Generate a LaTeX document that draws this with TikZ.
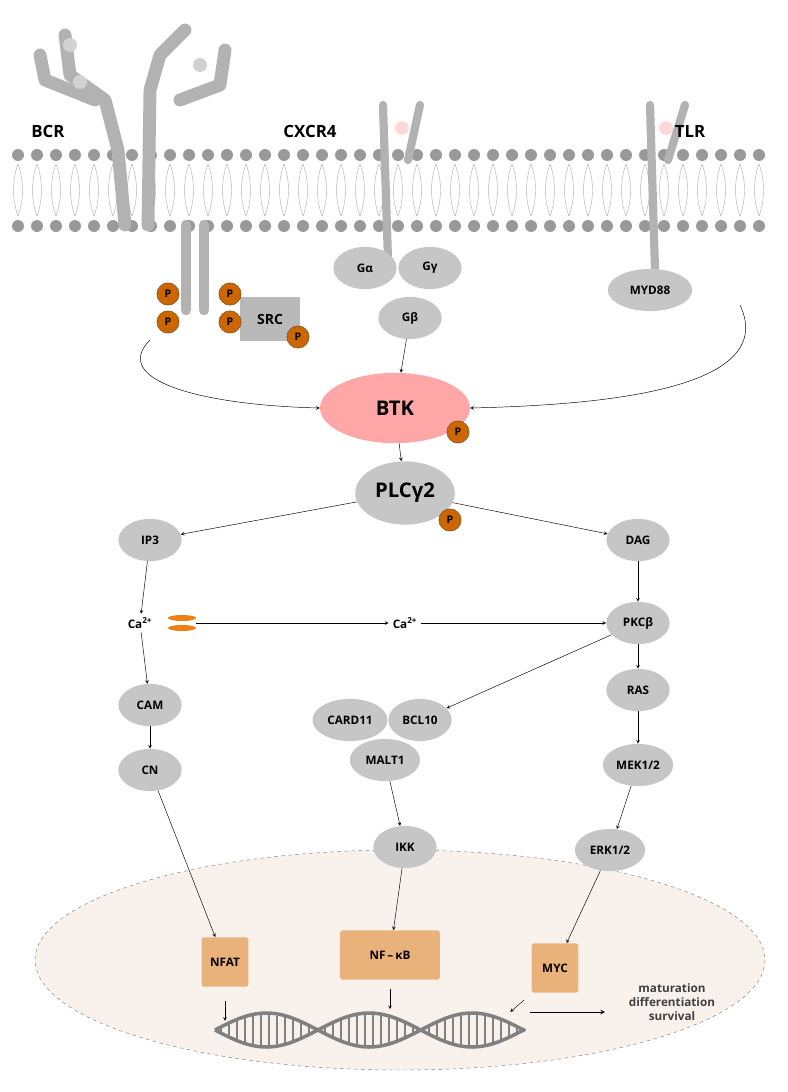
\documentclass[tikz,border=0pt]{standalone}
\usepackage{fontspec}
\setmainfont{Open Sans}
\usetikzlibrary{shapes.geometric, arrows, positioning, calc}
\begin{document}
\begin{tikzpicture}[x=0.03cm,y=-0.03cm]

\tikzstyle{prot}  = [ellipse,fill=gray!45,inner sep=1pt,minimum width=54,minimum height=36,font=\bfseries]
\tikzstyle{phos}  = [circle,fill=orange!80!black,draw=brown!60!black,inner sep=0pt,minimum size=19,font=\bfseries\small]
\tikzstyle{tf}  = [rectangle,rounded corners=2pt,fill=orange!45!brown!60,minimum width=40,minimum height=42,font=\bfseries]
\tikzstyle{sig}  = [->,>=stealth,thin]
\tikzstyle{lbl}  = [font=\bfseries\Large]

\useasboundingbox (0,0) rectangle (788,1092);

% nucleus
\draw[gray,dashed,fill=brown!10] (400,960) ellipse (365 and 110);

% membrane
\foreach \x in {18,37,...,775} {
  \draw[gray!60] (\x,164) .. controls (\x-6,180) and (\x-6,200) .. (\x,216);
  \draw[gray!60] (\x,164) .. controls (\x+6,180) and (\x+6,200) .. (\x,216);
  \fill[gray!80] (\x,155) circle (6);
  \fill[gray!80] (\x,226) circle (6);
}

% BCR
\draw[gray!60,line width=11,line cap=round,line join=round] (65,35) -- (70,75) -- (105,100) -- (118,150) -- (125,225);
\draw[gray!60,line width=11,line cap=round,line join=round] (40,55) -- (45,80) -- (95,100);
\draw[gray!60,line width=11,line cap=round,line join=round] (185,30) -- (160,55) -- (150,90) -- (148,225);
\draw[gray!60,line width=11,line cap=round,line join=round] (225,50) -- (220,85) -- (180,100);
\draw[gray!60,line width=9,line cap=round] (186,225) -- (186,310);
\draw[gray!60,line width=9,line cap=round] (204,225) -- (204,310);
\fill[gray!35] (70,45) circle (7) (80,82) circle (7) (200,65) circle (7);
% CXCR4, TLR
\draw[gray!60,line width=7,line cap=round] (383,105) -- (388,260);
\draw[gray!60,line width=7,line cap=round] (420,105) -- (408,160);
\fill[red!15] (402,128) circle (7);
\draw[gray!60,line width=7,line cap=round] (650,105) -- (655,270);
\draw[gray!60,line width=7,line cap=round] (685,105) -- (668,160);
\fill[red!15] (666,128) circle (7);

\node[lbl] (bcr) at (48,131) {BCR};
\node[lbl] (cxcr) at (310,131) {CXCR4};
\node[lbl] (tlr) at (690,131) {TLR};

\node (src) [rectangle,fill=gray!55,minimum width=52,minimum height=38,font=\bfseries\large] at (270,319) {SRC};
\node (p1) [phos] at (168,294) {P};
\node (p2) [phos] at (168,322) {P};
\node (p3) [phos] at (230,294) {P};
\node (p4) [phos] at (230,322) {P};
\node (p5) [phos] at (298,337) {P};

\node (ga) [prot] at (365,268) {Gα};
\node (gb) [prot] at (410,318) {Gβ};
\node (gg) [prot] at (430,268) {Gγ};
\node (myd) [prot,minimum width=72] at (650,290) {MYD88};

\node (btk) [ellipse,fill=red!35,minimum width=128,minimum height=60,font=\bfseries\LARGE] at (395,408) {BTK};
\node (pb) [phos] at (458,432) {P};
\node (plc) [prot,minimum width=85,minimum height=54,font=\bfseries\LARGE] at (405,493) {PLCγ2};
\node (pp) [phos] at (450,520) {P};

\node (ip3) [prot] at (150,540) {IP3};
\node (dag) [prot] at (638,540) {DAG};
\node (ca1) [font=\bfseries] at (140,623) {Ca\textsuperscript{2+}};
\fill[orange!70!brown] (182,618) ellipse (14 and 3) (182,628) ellipse (14 and 3);
\coordinate (ch) at (196,623);
\node (ca2) [font=\bfseries] at (405,623) {Ca\textsuperscript{2+}};
\node (pkc) [prot] at (638,623) {PKCβ};
\node (cam) [prot] at (150,705) {CAM};
\node (cn) [prot] at (150,770) {CN};
\node (card) [prot,minimum width=64] at (350,720) {CARD11};
\node (bcl) [prot] at (420,720) {BCL10};
\node (malt) [prot,minimum width=60] at (385,760) {MALT1};
\node (ikk) [prot] at (405,847) {IKK};
\node (ras) [prot] at (638,690) {RAS};
\node (mek) [prot,minimum width=60] at (638,765) {MEK1/2};
\node (erk) [prot,minimum width=60] at (610,850) {ERK1/2};

\node (nfat) [tf] at (225,962) {NFAT};
\node (nfk) [tf,minimum width=85] at (390,955) {NF\,--\,κB};
\node (myc) [tf] at (555,968) {MYC};

% DNA
\draw[gray,line width=3] plot[domain=215:525,samples=90] (\x,{1030+17*sin((\x-215)*1.75)});
\draw[gray,line width=3] plot[domain=215:525,samples=90] (\x,{1030-17*sin((\x-215)*1.75)});
\foreach \x in {221,229,...,520}
  \draw[gray,line width=1.3] (\x,{1030+15*sin((\x-215)*1.75)}) -- (\x,{1030-15*sin((\x-215)*1.75)});
\coordinate (dna) at (530,1012);
\node (out) [font=\bfseries,text=darkgray,align=center] at (672,1002) {maturation\\differentiation\\survival};

% arrows
\draw[sig] (150,340) .. controls (110,380) and (200,405) .. (btk.west);
\draw[sig] (740,305) .. controls (780,390) and (600,405) .. (btk.east);
\draw[sig] (gb) -- (btk);
\draw[sig] (btk) -- (plc);
\draw[sig] (plc) -- (ip3);
\draw[sig] (plc) -- (dag);
\draw[sig] (ip3) -- (ca1);
\draw[sig] (ch) -- (ca2);
\draw[sig] (ca2) -- (pkc);
\draw[sig] (dag) -- (pkc);
\draw[sig] (ca1) -- (cam);
\draw[sig] (cam) -- (cn);
\draw[sig] (cn) -- (nfat);
\draw[sig] (pkc) -- (bcl);
\draw[sig] (pkc) -- (ras);
\draw[sig] (ras) -- (mek);
\draw[sig] (mek) -- (erk);
\draw[sig] (malt) -- (ikk);
\draw[sig] (ikk) -- (nfk);
\draw[sig] (erk) -- (myc);
\draw[sig] ([yshift=-12]nfat.south) -- ++(0,20);
\draw[sig] ([yshift=-8]nfk.south) -- ++(0,20);
\draw[sig] ([xshift=-6,yshift=-6]myc.south west) -- ++(-14,12);
\draw[sig,thick] (dna) -- ++(75,0);
\end{tikzpicture}
\end{document}
